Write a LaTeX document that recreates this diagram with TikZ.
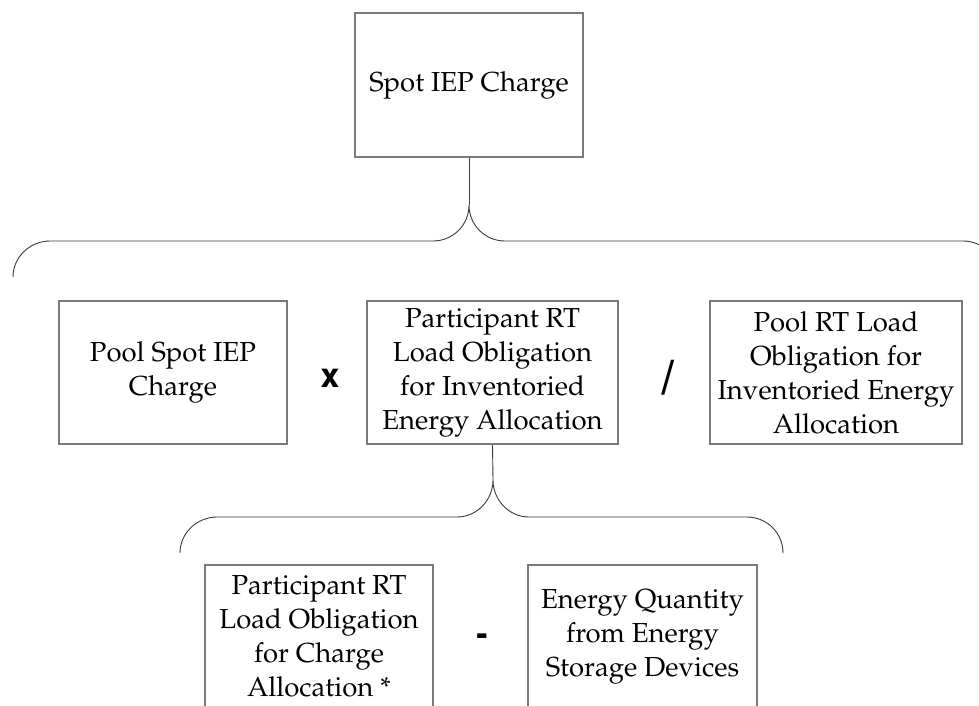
\documentclass[tikz,border=0pt]{standalone}
\usepackage[T1]{fontenc}
\usepackage{mathpazo}
\usepackage{helvet}
\definecolor{boxgray}{HTML}{7A7A7A}
\definecolor{bracegray}{HTML}{3A3A3A}
\begin{document}
\begin{tikzpicture}[x=1pt,y=-1pt,
  box/.style={draw=boxgray,line width=1.2pt,align=center,inner sep=0pt,
    font=\fontsize{27.5}{34}\selectfont},
  brace/.style={draw=bracegray,line width=0.9pt},
  op/.style={inner sep=0pt,font=\fontfamily{phv}\bfseries\fontsize{34}{34}\selectfont}]
\useasboundingbox (0,0) rectangle (979,705);
\clip (0,0) rectangle (979,705);
% boxes
\node[box,minimum width=228pt,minimum height=144pt] (top) at (469,85) {Spot IEP Charge};
\node[box,minimum width=228pt,minimum height=143pt] (b1) at (173,372.5) {Pool Spot IEP\\Charge};
\node[box,minimum width=251pt,minimum height=143pt] (b2) at (492.5,372.5) {Participant RT\\Load Obligation\\for Inventoried\\Energy Allocation};
\node[box,minimum width=252pt,minimum height=143pt] (b3) at (836,372.5) {Pool RT Load\\Obligation for\\Inventoried Energy\\Allocation};
\node[box,minimum width=228pt,minimum height=143pt] (b4) at (319,636.5) {Participant RT\\Load Obligation\\for Charge\\Allocation *};
\node[box,minimum width=229pt,minimum height=143pt] (b5) at (642.5,636.5) {Energy Quantity\\from Energy\\Storage Devices};
% operators
\node[op] (opx) at (330,378) {x};
\node[op,font=\fontfamily{phv}\bfseries\fontsize{48}{48}\selectfont] (opdiv) at (668,377) {/};
\node[op] (opminus) at (482,640) {-};
% braces
\coordinate (t1) at (469,205);
\coordinate (t2) at (493,480);
\draw[brace] (top.south) -- (t1);
\draw[brace] (b2.south) -- (t2);
\draw[brace] (13,277) .. controls (13,257) and (30,241) .. (50,241) -- (433,241)
  .. controls (453,241) and (469,225) .. (t1)
  .. controls (469,225) and (485,241) .. (505,241) -- (963,241)
  .. controls (983,241) and (999,257) .. (999,277);
\draw[brace] (180,553) .. controls (180,533) and (197,517) .. (217,517) -- (457,517)
  .. controls (477,517) and (493,500) .. (t2)
  .. controls (493,500) and (509,517) .. (529,517) -- (747,517)
  .. controls (767,517) and (783,533) .. (783,553);
\end{tikzpicture}
\end{document}
